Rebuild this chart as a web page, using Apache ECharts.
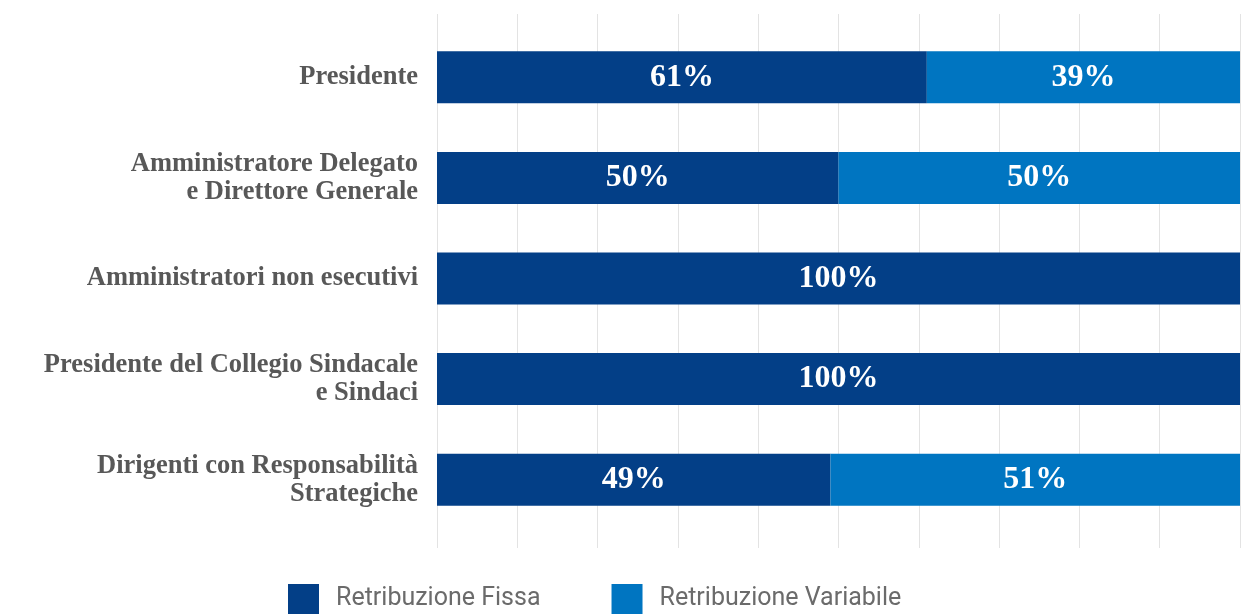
<!DOCTYPE html>
<html>
<head>
<meta charset="utf-8">
<script src="https://cdn.jsdelivr.net/npm/echarts@6/dist/echarts.min.js"></script>
<style>
html, body { margin: 0; padding: 0; background: #fff; }
#container { width: 1243px; height: 614px; }
</style>
</head>
<body>
<div id="container"></div>
<script>
var categories = [
	"Presidente",
	"Amministratore Delegato\ne Direttore Generale",
	"Amministratori non esecutivi",
	"Presidente del Collegio Sindacale\ne Sindaci",
	"Dirigenti con Responsabilità\nStrategiche"
];
var seriesNames = ["Retribuzione Fissa", "Retribuzione Variabile"];
var fissa = [61, 50, 100, 100, 49];
var variabile = [39, 50, 0, 0, 51];

var colDark = "#033f87";
var colLight = "#0075c1";

window.onload = function(){
	var myChart = echarts.init(document.getElementById("container"));
	var lbl = {
		show : true,
		position : 'inside',
		color : '#fff',
		fontFamily : 'Liberation Serif',
		fontWeight : 'bold',
		fontSize : 32,
		formatter : function(p){ return p.value > 0 ? p.value + '%' : ''; }
	};
	myChart.setOption({
		animation : false,
		legend : {
			data : seriesNames,
			left : 288,
			top : 584,
			padding : 0,
			itemWidth : 31,
			itemHeight : 30,
			itemGap : 71,
			icon : 'rect',
			textStyle : { fontFamily : 'Roboto', fontSize : 25, lineHeight : 25, color : '#6b6b6b', padding : [4, 0, 0, 12] }
		},
		grid : [
			// griglia solo per le linee verticali (piu alte delle barre)
			{ left : 437, right : 3, top : 14, bottom : 66 },
			{ left : 437, right : 3, top : 27, bottom : 84 }
		],
		xAxis : [
			{ gridIndex : 0, type : 'value', min : 0, max : 100, interval : 10,
			  axisLabel : { show : false }, axisLine : { show : false }, axisTick : { show : false },
			  splitLine : { show : true, lineStyle : { color : '#e3e3e3', width : 1 } } },
			{ gridIndex : 1, type : 'value', min : 0, max : 100, interval : 10,
			  axisLabel : { show : false }, axisLine : { show : false }, axisTick : { show : false },
			  splitLine : { show : false } }
		],
		yAxis : [
			{ gridIndex : 0, type : 'category', data : [''], show : false },
			{ gridIndex : 1, type : 'category', data : categories, inverse : true,
			  axisLine : { show : false }, axisTick : { show : false },
			  axisLabel : { margin : 19, fontFamily : 'Liberation Serif', fontWeight : 'bold',
			                fontSize : 26.5, lineHeight : 28, color : '#585858', align : 'right' } }
		],
		series : [
			{ name : seriesNames[0], type : 'bar', stack : 'tot', xAxisIndex : 1, yAxisIndex : 1,
			  barWidth : 52, data : fissa, itemStyle : { color : colDark }, label : lbl },
			{ name : seriesNames[1], type : 'bar', stack : 'tot', xAxisIndex : 1, yAxisIndex : 1,
			  barWidth : 52, data : variabile, itemStyle : { color : colLight }, label : lbl }
		]
	});
}
</script>
</body>
</html>
